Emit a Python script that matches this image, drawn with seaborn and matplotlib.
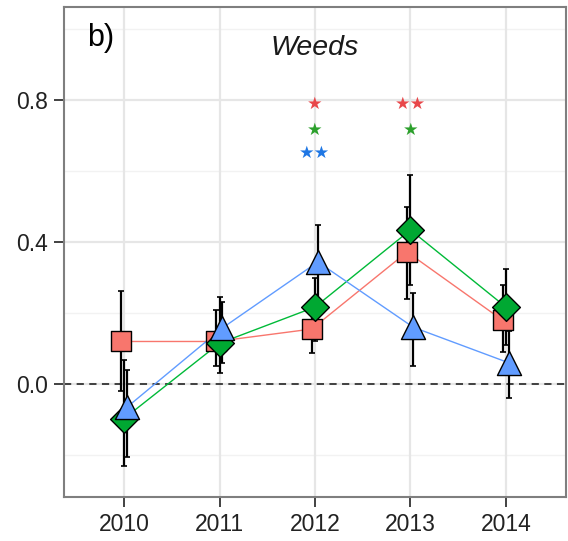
import numpy as np
import pandas as pd
import matplotlib
matplotlib.use("Agg")
import matplotlib.pyplot as plt
import seaborn as sns

years = [2010, 2011, 2012, 2013, 2014]
groups = ["A", "B", "C"]
red_mean = [0.12, 0.12, 0.155, 0.372, 0.18]
red_lo = [-0.02, 0.05, 0.087, 0.24, 0.09]
red_hi = [0.262, 0.21, 0.22, 0.50, 0.28]
green_mean = [-0.097, 0.115, 0.217, 0.434, 0.217]
green_lo = [-0.23, 0.03, 0.12, 0.28, 0.11]
green_hi = [0.068, 0.245, 0.30, 0.59, 0.325]
blue_mean = [-0.065, 0.158, 0.344, 0.16, 0.06]
blue_lo = [-0.205, 0.06, 0.20, 0.05, -0.04]
blue_hi = [0.04, 0.23, 0.448, 0.256, 0.15]

star_years = [2012, 2013]
red_stars = ["*", "**"]
green_stars = ["*", "*"]
blue_stars = ["**", ""]

colors = {"A": "#F8766D", "B": "#00A832", "C": "#619CFF"}
line_colors = {"A": "#F8766D", "B": "#00BA38", "C": "#619CFF"}
markers = {"A": "s", "B": "D", "C": "^"}
sizes = {"A": 190, "B": 200, "C": 300}
offsets = {"A": -0.035, "B": 0.0, "C": 0.03}

rows = []
for g, m, lo, hi in [("A", red_mean, red_lo, red_hi),
                     ("B", green_mean, green_lo, green_hi),
                     ("C", blue_mean, blue_lo, blue_hi)]:
    for y, mv, l, h in zip(years, m, lo, hi):
        rows.append({"group": g, "year": y, "x": y + offsets[g], "mean": mv, "lo": l, "hi": h})
df = pd.DataFrame(rows)

sns.set_theme(style="white")
plt.rcParams['font.family'] = ['Liberation Sans', 'DejaVu Sans']

fig = plt.figure(figsize=(5.68, 5.41), dpi=100)
ax = fig.add_axes([64/568, 44/541, 502/568, 490/541])

ax.set_xlim(2009.37, 2014.63)
ax.set_ylim(-0.318, 1.062)

for v in [-0.2, 0.2, 0.6, 1.0]:
    ax.axhline(v, color="#F2F2F2", lw=1.0, zorder=0)
for v in [0.0, 0.4, 0.8]:
    ax.axhline(v, color="#E6E6E6", lw=1.6, zorder=0)
for v in years:
    ax.axvline(v, color="#E6E6E6", lw=1.6, zorder=0)

ax.axhline(0, color="#333333", lw=1.3, ls=(0, (4, 3)), zorder=1)

sns.lineplot(data=df, x="x", y="mean", hue="group", palette=line_colors,
             lw=1.0, legend=False, ax=ax, zorder=2, estimator=None, sort=True)

for g in groups:
    d = df[df.group == g]
    ax.errorbar(d["x"], d["mean"], yerr=[d["mean"] - d["lo"], d["hi"] - d["mean"]],
                fmt="none", ecolor="black", elinewidth=1.6, capsize=2, capthick=1.2, zorder=3)

for g in groups:
    d = df[df.group == g]
    sns.scatterplot(data=d, x="x", y="mean", marker=markers[g], s=sizes[g],
                    color=colors[g], edgecolor="black", linewidth=1.0,
                    legend=False, ax=ax, zorder=4)

for yr, rs, gs, bs in zip(star_years, red_stars, green_stars, blue_stars):
    for txt, yv, c in [(rs, 0.79, "#E8474A"), (gs, 0.715, "#2CA02C"), (bs, 0.65, "#1F77E4")]:
        if txt:
            ax.text(yr, yv, "★" * len(txt), color=c, ha="center", va="center",
                    fontsize=12.5, family=['DejaVu Sans'])

ax.text(2012, 0.946, "Weeds", style="italic", ha="center", va="center", fontsize=20.5, color="#1a1a1a")
ax.text(2009.61, 0.975, "b)", ha="left", va="center", fontsize=22, color="black")

ax.set_xticks(years)
ax.set_xticklabels([str(y) for y in years])
ax.set_yticks([0.0, 0.4, 0.8])
ax.set_yticklabels(["0.0", "0.4", "0.8"])
ax.tick_params(axis="both", labelsize=16.5, colors="#333333", length=7.5, width=1.3,
               direction="out", bottom=True, left=True, labelcolor="#222222", pad=4)
ax.set_xlabel("")
ax.set_ylabel("")
for s in ax.spines.values():
    s.set_color("#7F7F7F")
    s.set_linewidth(1.5)
    s.set_visible(True)

fig.savefig("out.png", dpi=100)
